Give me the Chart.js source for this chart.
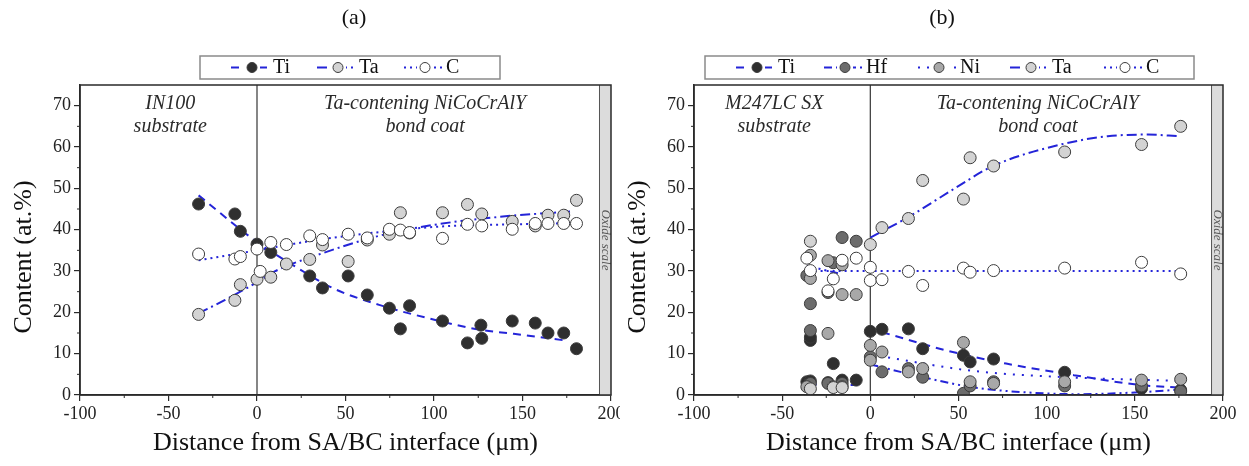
<!DOCTYPE html>
<html>
<head>
<meta charset="utf-8">
<script src="https://cdn.jsdelivr.net/npm/chart.js@4.4.1/dist/chart.umd.min.js"></script>
<style>
    html, body { margin: 0; padding: 0; background: #fff; }
    #wrap { position: relative; width: 1249px; height: 466px; overflow: hidden; }
    #wrap canvas { position: absolute; top: 0; }
</style>
</head>
<body>
<div id="wrap">
    <canvas id="chartA" width="620" height="466" style="left:0"></canvas>
    <canvas id="chartB" width="629" height="466" style="left:620px"></canvas>
</div>
<script>
// (a) IN100 substrate, points are [distance (um), content (at.%)]
const tiA = [[-33, 46.2], [-12.5, 43.8], [-9.4, 39.6], [0, 36.5], [7.8, 34.5], [29.8, 28.8], [37, 25.9], [51.5, 28.8], [62.3, 24.2], [74.8, 21.0], [81, 16.0], [86.2, 21.6], [104.8, 17.9], [118.9, 12.6], [126.5, 16.9], [127, 13.7], [144.2, 17.9], [157.2, 17.4], [164.4, 15.0], [173.3, 15.0], [180.5, 11.2]];
const taA = [[-33, 19.5], [-12.5, 22.9], [-9.4, 26.7], [0, 28.0], [7.8, 28.5], [16.6, 31.7], [29.8, 32.8], [37, 36.3], [51.5, 32.3], [62.3, 37.5], [74.8, 38.9], [81, 44.1], [86.2, 39.2], [104.8, 44.1], [118.9, 46.1], [127, 43.8], [144.2, 42.0], [157.2, 40.9], [164.4, 43.5], [173.3, 43.5], [180.5, 47.1]];
const cA = [[-33, 34.1], [-12.5, 32.9], [-9.4, 33.5], [0, 35.3], [1.8, 29.9], [7.8, 36.9], [16.6, 36.4], [29.8, 38.5], [37, 37.6], [51.5, 38.9], [62.3, 38.0], [74.8, 40.1], [81, 39.9], [86.2, 39.3], [104.8, 37.9], [118.9, 41.3], [127, 40.9], [144.2, 40.1], [157.2, 41.5], [164.4, 41.5], [173.3, 41.5], [180.5, 41.5]];
const tiFitA = [[-33, 48.3], [0, 37], [20, 31.5], [43.6, 25.7], [69, 21.8], [96.5, 18.6], [125.8, 15.8], [145, 14.8], [174, 13.2]];
const taFitA = [[-33, 19.8], [-18, 23], [0, 27.3], [10, 29.9], [37, 34.3], [67, 38.3], [99, 41.1], [137, 43.1], [177, 44.4]];
const cFitA = [[-33, 32.6], [0, 35], [34, 37.5], [71, 39.5], [109, 40.9], [147, 41.3], [178, 41.6]];

// (b) M247LC SX substrate
const tiB = [[-36, 3.2], [-34, 3.4], [-34, 13.2], [-34, 14.0], [-24, 3.0], [-21, 7.6], [-16, 3.6], [-8, 3.6], [0, 15.4], [6.6, 15.9], [21.6, 16.0], [29.7, 11.2], [52.8, 9.6], [56.6, 8.0], [69.9, 8.7], [110.2, 5.5], [153.8, 1.6], [176, 1.2]];
const hfB = [[-36, 28.9], [-34, 22.1], [-34, 15.6], [-34, 2.8], [-24, 24.8], [-24, 2.8], [-21, 32.0], [-16, 38.1], [-16, 2.8], [-8, 37.2], [0, 9.2], [6.6, 5.6], [21.6, 6.4], [29.7, 4.3], [52.8, 0.4], [56.6, 2.2], [69.9, 3.2], [110.2, 2.2], [153.8, 2.2], [176, 0.9]];
const niB = [[-36, 2.0], [-34, 28.2], [-34, 33.8], [-24, 32.5], [-24, 14.9], [-21, 2.0], [-16, 31.5], [-16, 24.3], [-16, 2.0], [-8, 24.3], [0, 12.0], [0, 8.4], [6.6, 10.4], [21.6, 5.6], [29.7, 6.4], [52.8, 12.7], [56.6, 3.2], [69.9, 2.8], [110.2, 3.2], [153.8, 3.6], [176, 3.8]];
const taB = [[-34, 37.2], [-34, 1.5], [-21, 1.8], [-16, 1.8], [0, 36.4], [6.6, 40.5], [21.6, 42.7], [29.7, 51.9], [52.8, 47.4], [56.6, 57.4], [69.9, 55.4], [110.2, 58.8], [153.8, 60.6], [176, 65.0]];
const cB = [[-36, 33.1], [-34, 30.1], [-24, 25.2], [-21, 28.1], [-16, 32.6], [-8, 33.1], [0, 30.9], [0, 27.7], [6.6, 27.9], [21.6, 29.9], [29.7, 26.5], [52.8, 30.7], [56.6, 29.7], [69.9, 30.1], [110.2, 30.7], [153.8, 32.1], [176, 29.3]];
const tiFitB = [[6.6, 15.2], [43, 10.8], [77, 7.6], [115.5, 4.8], [153.4, 2.4], [176.3, 1.8]];
const tiFitSubB = [[-35, 2.6], [-7, 2.4]];
const hfFitB = [[0, 7.4], [25, 4.8], [59, 1.8], [90, 0.6], [116.6, 0.2], [150, 0.6], [178, 1.4]];
const hfFitSubB = [[-36, 31.3], [-17, 29.3]];
const niFitB = [[0, 9.8], [59, 5.8], [116.6, 4.2], [178, 3.4]];
const taFitB = [[0, 38.1], [21, 42.9], [48.7, 50.2], [69.5, 55.4], [108, 60.6], [134.6, 62.6], [157.3, 63.0], [175.3, 62.6]];
const cFitB = [[-35, 30], [177, 30]];

const xTicks = [-100, -50, 0, 50, 100, 150, 200];
const yTicks = [0, 10, 20, 30, 40, 50, 60, 70];

const SERIF = '"Liberation Serif", "Times New Roman", serif';
const BLUE = '#2424d8';
const INK = '#2a2a2a';
const style = {
    Ti: {fill: '#2f2f2f', dash: [8, 6]},
    Hf: {fill: '#6c6c6c', dash: [8, 4, 2, 4, 2, 4]},
    Ni: {fill: '#a8a8a8', dash: [2, 7]},
    Ta: {fill: '#d3d3d3', dash: [10, 4, 2, 4]},
    C: {fill: '#ffffff', dash: [2, 4]}
};

function pts(arr) {
    return arr.map(([x, y]) => ({x, y}));
}

function markers(name, arr, order) {
    return {
        label: name,
        data: pts(arr),
        showLine: false,
        backgroundColor: style[name].fill,
        borderColor: '#3c3c3c',
        borderWidth: 1,
        pointRadius: 6,
        pointHoverRadius: 6,
        order
    };
}

function fit(name, arr) {
    return {
        label: name + ' fit',
        data: pts(arr),
        showLine: true,
        borderColor: BLUE,
        borderWidth: 2,
        borderDash: style[name].dash,
        pointRadius: 0,
        cubicInterpolationMode: 'monotone',
        order: 20
    };
}

// frame, minor ticks, interface line, oxide band, texts and legend box
const decor = {
    id: 'decor',
    beforeDatasetsDraw(chart, args, o) {
        const {ctx, chartArea: a, scales: {x, y}} = chart;
        ctx.save();
        // oxide scale band
        const bx = x.getPixelForValue(193.5);
        ctx.fillStyle = '#dcdcdc';
        ctx.fillRect(bx, a.top, a.right - bx, a.bottom - a.top);
        ctx.strokeStyle = '#555';
        ctx.lineWidth = 1;
        ctx.beginPath();
        ctx.moveTo(bx, a.top);
        ctx.lineTo(bx, a.bottom);
        ctx.stroke();
        ctx.translate((bx + a.right) / 2, (a.top + a.bottom) / 2);
        ctx.rotate(Math.PI / 2);
        ctx.fillStyle = '#555';
        ctx.font = 'italic 13px ' + SERIF;
        ctx.textAlign = 'center';
        ctx.textBaseline = 'middle';
        ctx.fillText('Oxide scale', 0, 0);
        ctx.restore();

        // substrate / bond coat interface
        ctx.save();
        const x0 = x.getPixelForValue(0);
        ctx.strokeStyle = '#444';
        ctx.lineWidth = 1.3;
        ctx.beginPath();
        ctx.moveTo(x0, a.top);
        ctx.lineTo(x0, a.bottom);
        ctx.stroke();

        ctx.fillStyle = INK;
        ctx.font = 'italic 20px ' + SERIF;
        ctx.textAlign = 'center';
        ctx.textBaseline = 'middle';
        o.notes.forEach(n => {
            ctx.fillText(n.text, x.getPixelForValue(n.x), y.getPixelForValue(n.y));
        });
        ctx.restore();
    },
    afterDraw(chart, args, o) {
        const {ctx, chartArea: a, scales: {x, y}} = chart;
        ctx.save();
        ctx.strokeStyle = INK;
        ctx.lineWidth = 1.5;
        ctx.strokeRect(a.left, a.top, a.right - a.left, a.bottom - a.top);

        // minor ticks
        ctx.lineWidth = 1;
        ctx.beginPath();
        for (let v = -75; v < 200; v += 50) {
            const px = x.getPixelForValue(v);
            ctx.moveTo(px, a.bottom);
            ctx.lineTo(px, a.bottom + 3);
        }
        for (let v = 5; v < 75; v += 10) {
            const py = y.getPixelForValue(v);
            ctx.moveTo(a.left, py);
            ctx.lineTo(a.left - 3, py);
        }
        ctx.stroke();

        // axis titles
        ctx.fillStyle = '#111';
        ctx.font = '26px ' + SERIF;
        ctx.textAlign = 'center';
        ctx.textBaseline = 'middle';
        ctx.fillText('Distance from SA/BC interface (\u03bcm)', (a.left + a.right) / 2, 443);
        ctx.save();
        ctx.translate(o.yTitleX, 257);
        ctx.rotate(-Math.PI / 2);
        ctx.fillText('Content (at.%)', 0, 0);
        ctx.restore();

        // panel label
        ctx.font = '22px ' + SERIF;
        ctx.fillText(o.panel, o.panelX, 18);

        // legend
        const L = o.legend;
        ctx.fillStyle = '#fff';
        ctx.fillRect(L.left, 56, L.right - L.left, 23);
        ctx.strokeStyle = '#8a8a8a';
        ctx.lineWidth = 1.5;
        ctx.strokeRect(L.left, 56, L.right - L.left, 23);
        L.items.forEach((name, i) => {
            const mx = L.marks[i];
            ctx.save();
            ctx.strokeStyle = BLUE;
            ctx.lineWidth = 2;
            ctx.setLineDash(style[name].dash);
            ctx.beginPath();
            ctx.moveTo(mx - 21, 67.5);
            ctx.lineTo(mx + 17, 67.5);
            ctx.stroke();
            ctx.restore();
            ctx.fillStyle = '#fff';
            ctx.fillRect(mx - 8, 60, 16, 15);
            ctx.beginPath();
            ctx.arc(mx, 67.5, 5, 0, Math.PI * 2);
            ctx.fillStyle = style[name].fill;
            ctx.fill();
            ctx.strokeStyle = '#3c3c3c';
            ctx.lineWidth = 1;
            ctx.stroke();
            ctx.fillStyle = '#111';
            ctx.font = '20px ' + SERIF;
            ctx.textAlign = 'left';
            ctx.fillText(name, mx + 21, 68);
        });
        ctx.restore();
    }
};

function makeChart(id, datasets, yWidth, padRight, decorOpts) {
    return new Chart(document.getElementById(id), {
        type: 'scatter',
        data: {datasets},
        plugins: [decor],
        options: {
            responsive: false,
            animation: false,
            devicePixelRatio: 1,
            layout: {padding: {top: 85, right: padRight, left: 0, bottom: 0}},
            plugins: {
                legend: {display: false},
                tooltip: {enabled: false},
                decor: decorOpts
            },
            scales: {
                x: {
                    type: 'linear',
                    min: -100,
                    max: 200,
                    afterBuildTicks: s => { s.ticks = xTicks.map(v => ({value: v})); },
                    afterFit: s => { s.height = 71; s.paddingLeft = 0; s.paddingRight = 0; },
                    ticks: {color: '#222', font: {family: SERIF, size: 18}, padding: 2, maxRotation: 0},
                    grid: {drawOnChartArea: false, tickLength: 6, color: INK, lineWidth: 1.2},
                    border: {color: INK, width: 1.5}
                },
                y: {
                    min: 0,
                    max: 75,
                    afterBuildTicks: s => { s.ticks = yTicks.map(v => ({value: v})); },
                    afterFit: s => { s.width = yWidth; s.paddingTop = 0; s.paddingBottom = 0; },
                    ticks: {color: '#222', font: {family: SERIF, size: 18}, padding: 3},
                    grid: {drawOnChartArea: false, tickLength: 6, color: INK, lineWidth: 1.2},
                    border: {color: INK, width: 1.5}
                }
            }
        }
    });
}

makeChart('chartA', [
    fit('Ti', tiFitA), fit('Ta', taFitA), fit('C', cFitA),
    markers('Ti', tiA, 5), markers('Ta', taA, 4), markers('C', cA, 3)
], 80, 9, {
    panel: '(a)', panelX: 354, yTitleX: 24,
    notes: [
        {text: 'IN100', x: -49, y: 70.5},
        {text: 'substrate', x: -49, y: 64.8},
        {text: 'Ta-contening NiCoCrAlY', x: 95, y: 70.5},
        {text: 'bond coat', x: 95, y: 64.8}
    ],
    legend: {left: 200, right: 500, items: ['Ti', 'Ta', 'C'], marks: [252, 338, 425]}
});

makeChart('chartB', [
    fit('Ti', tiFitB), fit('Ti', tiFitSubB), fit('Hf', hfFitB), fit('Hf', hfFitSubB),
    fit('Ni', niFitB), fit('Ta', taFitB), fit('C', cFitB),
    markers('Ti', tiB, 7), markers('Hf', hfB, 6), markers('Ni', niB, 5), markers('Ta', taB, 4), markers('C', cB, 3)
], 74, 26, {
    panel: '(b)', panelX: 322, yTitleX: 18,
    notes: [
        {text: 'M247LC SX', x: -54.5, y: 70.5},
        {text: 'substrate', x: -54.5, y: 64.8},
        {text: 'Ta-contening NiCoCrAlY', x: 95, y: 70.5},
        {text: 'bond coat', x: 95, y: 64.8}
    ],
    legend: {left: 85, right: 574, items: ['Ti', 'Hf', 'Ni', 'Ta', 'C'], marks: [137, 225, 319, 411, 505]}
});
</script>
</body>
</html>
